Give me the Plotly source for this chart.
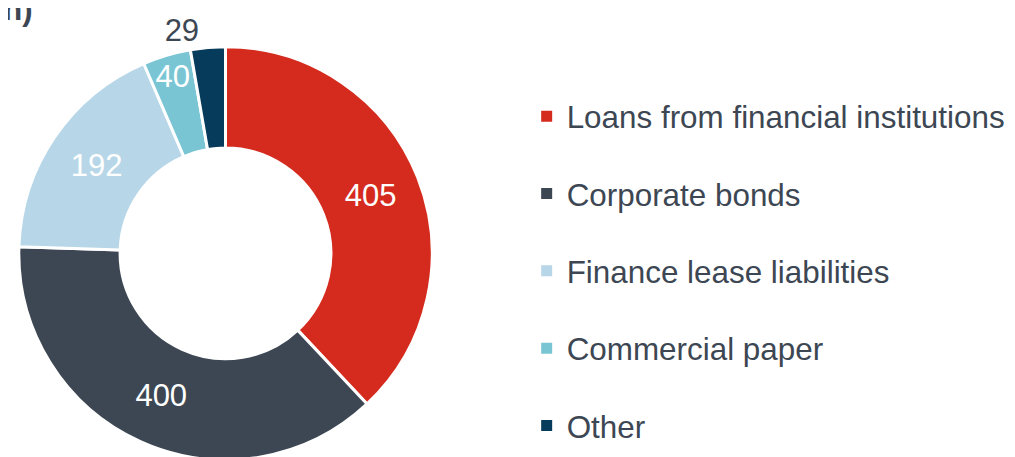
import plotly.graph_objects as go

labels = ["Loans from financial institutions", "Corporate bonds",
          "Finance lease liabilities", "Commercial paper", "Other"]
values = [405, 400, 192, 40, 29]
colors = ["#D52B1E", "#3D4753", "#B7D7E8", "#7AC5D4", "#073B5B"]
text_pos = ["inside", "inside", "inside", "inside", "outside"]

W, H = 1015, 457
FONT = "Liberation Sans, Arial, sans-serif"
TEXT_COLOR = "#3D4753"

fig = go.Figure()
fig.add_trace(go.Pie(
    labels=labels, values=values, sort=False, direction="clockwise", rotation=0,
    hole=0.51,
    marker=dict(colors=colors, line=dict(color="white", width=3)),
    textinfo="value", textposition=text_pos,
    insidetextorientation="horizontal",
    insidetextfont=dict(color="white", size=31, family=FONT),
    outsidetextfont=dict(color=TEXT_COLOR, size=31, family=FONT),
    domain=dict(x=[9 / W, 426 / W], y=[2 / H, 419 / H]),
    showlegend=False,
))

# legend entries as separate traces so the vertical gap can be set
for lab, col in zip(labels, colors):
    fig.add_trace(go.Scatter(
        x=[None], y=[None], mode="markers", name=lab,
        marker=dict(symbol="square", size=11, color=col),
        legendgroup=lab, showlegend=True,
    ))

# cropped unit label in the corner
fig.add_annotation(text="<b>(Billions of yen)</b>", x=27 / W, y=1, xref="paper", yref="paper",
                   xanchor="right", yanchor="bottom", yshift=-20, showarrow=False,
                   font=dict(size=31, family=FONT, color=TEXT_COLOR))

fig.update_layout(
    width=W, height=H,
    margin=dict(l=0, r=0, t=0, b=0),
    paper_bgcolor="white", plot_bgcolor="white",
    xaxis=dict(visible=False), yaxis=dict(visible=False),
    uniformtext=dict(minsize=31, mode="show"),
    showlegend=True,
    legend=dict(x=0.511, xanchor="left", y=0.421, yanchor="middle",
                traceorder="grouped", tracegroupgap=33.5, itemwidth=30,
                font=dict(size=31.4, family=FONT, color=TEXT_COLOR)),
)

fig.write_html("out.html")
